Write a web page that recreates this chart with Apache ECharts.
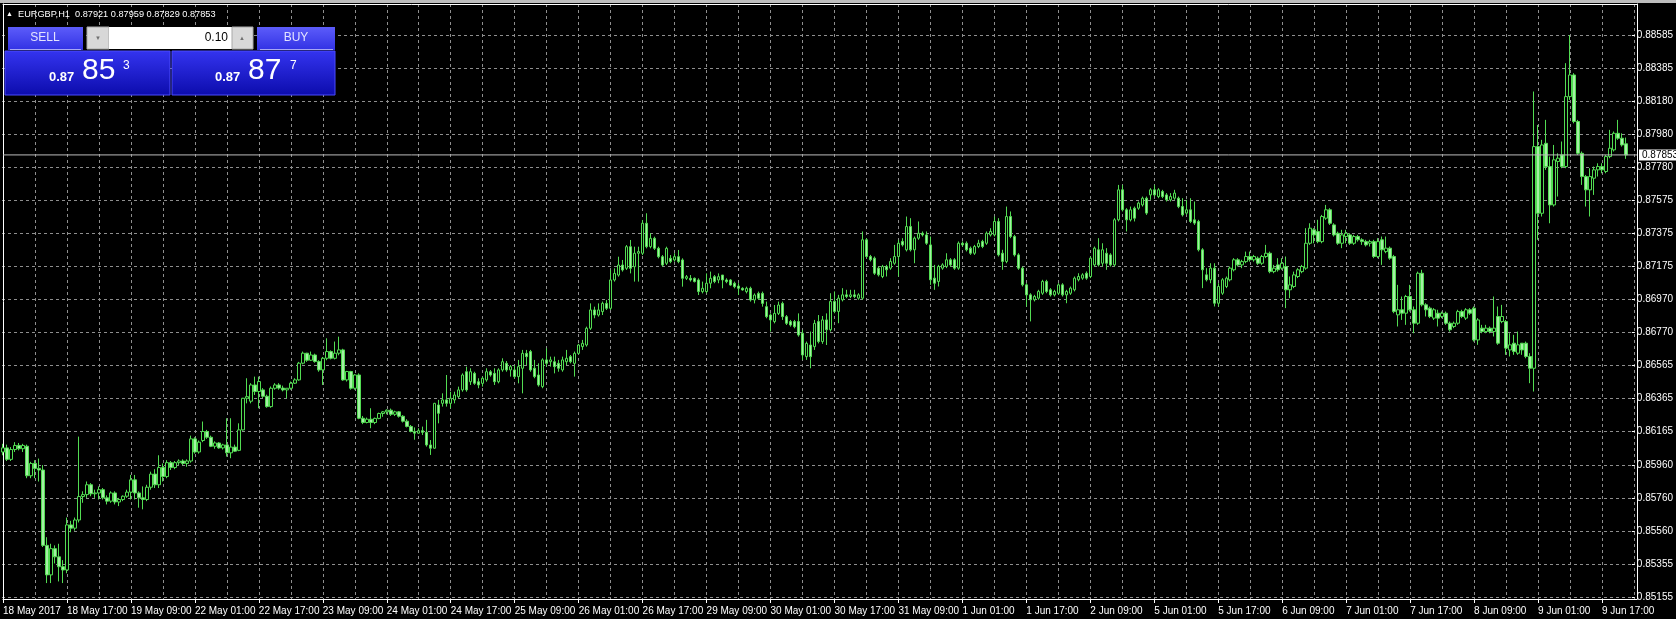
<!DOCTYPE html>
<html><head><meta charset="utf-8">
<script src="https://cdn.jsdelivr.net/npm/echarts@6/dist/echarts.min.js"></script>
<style>html,body{margin:0;padding:0;background:#000;}#c{width:1676px;height:619px;}</style>
</head><body><div id="c"></div>
<script>
const symbol = 'EURGBP', timeframe = 'H1';
const timeLabels = ['18 May 2017','18 May 17:00','19 May 09:00','22 May 01:00','22 May 17:00','23 May 09:00','24 May 01:00','24 May 17:00','25 May 09:00','26 May 01:00','26 May 17:00','29 May 09:00','30 May 01:00','30 May 17:00','31 May 09:00','1 Jun 01:00','1 Jun 17:00','2 Jun 09:00','5 Jun 01:00','5 Jun 17:00','6 Jun 09:00','7 Jun 01:00','7 Jun 17:00','8 Jun 09:00','9 Jun 01:00','9 Jun 17:00'];
const priceTickLabels = ['0.85155','0.85355','0.85560','0.85760','0.85960','0.86165','0.86365','0.86565','0.86770','0.86970','0.87175','0.87375','0.87575','0.87780','0.87980','0.88180','0.88385','0.88585'];
const bid = 0.87853, ask = 0.87877, lotSize = '0.10';

const opens = [
.86040,.86065,.85995,.86055,.86080,.86060,.86075,.85895,.85970,.85940,
.85930,.85470,.85290,.85450,.85400,.85340,.85320,.85595,.85575,.85625,
.85768,.85780,.85840,.85785,.85790,.85810,.85760,.85740,.85790,.85735,
.85750,.85770,.85795,.85870,.85790,.85760,.85750,.85825,.85905,.85840,
.85945,.85890,.85975,.85945,.85975,.85985,.85970,.85985,.86120,.86040,
.86110,.86165,.86130,.86075,.86095,.86065,.86083,.86035,.86070,.86050,
.86175,.86368,.86350,.86449,.86409,.86419,.86380,.86317,.86429,.86449,
.86430,.86419,.86429,.86460,.86480,.86582,.86643,.86600,.86632,.86592,
.86541,.86612,.86653,.86612,.86643,.86663,.86480,.86531,.86429,.86510,
.86246,.86220,.86240,.86220,.86245,.86275,.86285,.86295,.86270,.86285,
.86258,.86228,.86196,.86165,.86155,.86170,.86160,.86083,.86063,.86327,
.86337,.86358,.86337,.86358,.86378,.86419,.86530,.86469,.86520,.86469,
.86459,.86480,.86530,.86520,.86469,.86541,.86581,.86541,.86541,.86500,
.86551,.86642,.86653,.86551,.86510,.86439,.86602,.86591,.86591,.86581,
.86541,.86591,.86622,.86581,.86642,.86683,.86693,.86795,.86907,.86876,
.86897,.86947,.86917,.87090,.87120,.87181,.87161,.87293,.87171,.87253,
.87253,.87436,.87293,.87344,.87283,.87232,.87192,.87222,.87212,.87232,
.87212,.87100,.87100,.87100,.87090,.87019,.87019,.87070,.87110,.87090,
.87120,.87090,.87090,.87070,.87053,.87039,.87019,.87039,.86968,.87008,
.87008,.86927,.86876,.86836,.86886,.86947,.86866,.86836,.86836,.86836,
.86764,.86622,.86693,.86683,.86836,.86714,.86846,.86786,.86959,.86898,
.86969,.86999,.86989,.86999,.86979,.86979,.87335,.87233,.87223,.87162,
.87111,.87172,.87162,.87192,.87233,.87325,.87274,.87416,.87274,.87345,
.87375,.87365,.87304,.87101,.87081,.87162,.87172,.87213,.87213,.87162,
.87314,.87314,.87284,.87253,.87294,.87325,.87314,.87365,.87365,.87447,
.87253,.87203,.87477,.87355,.87243,.87162,.87060,.86999,.86969,.86979,
.87009,.87081,.87030,.86999,.87009,.87060,.86999,.87009,.87030,.87091,
.87101,.87131,.87111,.87182,.87274,.87192,.87253,.87243,.87182,.87457,
.87640,.87518,.87457,.87528,.87528,.87548,.87589,.87609,.87640,.87599,
.87630,.87609,.87579,.87589,.87589,.87538,.87498,.87518,.87457,.87447,
.87274,.87121,.87091,.87162,.86948,.87009,.87050,.87091,.87152,.87213,
.87182,.87202,.87233,.87213,.87223,.87192,.87233,.87253,.87141,.87182,
.87162,.87172,.87030,.87050,.87111,.87141,.87162,.87314,.87396,.87385,
.87324,.87467,.87518,.87426,.87375,.87314,.87355,.87365,.87314,.87355,
.87335,.87324,.87314,.87324,.87233,.87335,.87263,.87284,.87233,.86877,
.86908,.86887,.86989,.86908,.86826,.87131,.86938,.86918,.86857,.86887,
.86867,.86887,.86826,.86806,.86826,.86897,.86857,.86908,.86918,.86724,
.86796,.86775,.86796,.86775,.86867,.86836,.86836,.86663,.86704,.86643,
.86704,.86704,.86623,.86551,.87904,.87497,.87924,.87782,.87548,.87813,
.87853,.87782,.88209,.88341,.88057,.87863,.87721,.87640,.87711,.87762,
.87782,.87752,.87843,.87884,.87985,.87955,.87921];

const highs = [
.86090,.86085,.86070,.86100,.86095,.86090,.86085,.85980,.85990,.86000,
.85960,.85520,.85480,.85470,.85480,.85380,.85640,.85620,.85640,.86134,
.85800,.85860,.85850,.85810,.85830,.85820,.85775,.85800,.85800,.85760,
.85775,.85810,.85900,.85900,.85800,.85830,.85840,.85920,.85935,.86020,
.85970,.85990,.85985,.85985,.85995,.85995,.85995,.86140,.86130,.86110,
.86226,.86175,.86140,.86105,.86100,.86090,.86246,.86246,.86085,.86215,
.86370,.86490,.86460,.86500,.86500,.86430,.86390,.86440,.86460,.86460,
.86445,.86430,.86470,.86490,.86590,.86653,.86645,.86653,.86640,.86600,
.86620,.86734,.86660,.86714,.86744,.86670,.86535,.86535,.86515,.86520,
.86260,.86250,.86307,.86250,.86280,.86290,.86300,.86305,.86292,.86290,
.86265,.86240,.86205,.86190,.86185,.86195,.86236,.86113,.86340,.86358,
.86398,.86510,.86408,.86408,.86439,.86520,.86561,.86551,.86530,.86490,
.86500,.86551,.86540,.86551,.86551,.86612,.86595,.86571,.86571,.86602,
.86663,.86663,.86663,.86602,.86581,.86612,.86673,.86622,.86622,.86602,
.86622,.86663,.86632,.86653,.86700,.86724,.86805,.86947,.86927,.86947,
.86958,.86968,.87151,.87161,.87232,.87212,.87303,.87334,.87293,.87293,
.87456,.87497,.87375,.87354,.87293,.87242,.87293,.87242,.87253,.87273,
.87222,.87120,.87120,.87105,.87100,.87080,.87130,.87141,.87120,.87130,
.87120,.87100,.87095,.87080,.87070,.87045,.87049,.87049,.87008,.87019,
.87019,.86958,.86886,.86937,.86958,.86958,.86876,.86846,.86846,.86886,
.86785,.86714,.86775,.86846,.86876,.86870,.86886,.87009,.87020,.86999,
.87040,.87030,.87030,.87030,.87009,.87386,.87345,.87243,.87233,.87172,
.87182,.87182,.87223,.87304,.87335,.87345,.87477,.87467,.87355,.87447,
.87386,.87386,.87355,.87182,.87182,.87192,.87253,.87223,.87223,.87325,
.87325,.87325,.87294,.87304,.87335,.87335,.87386,.87406,.87477,.87467,
.87274,.87538,.87508,.87365,.87253,.87172,.87070,.87009,.86999,.87030,
.87091,.87091,.87040,.87030,.87070,.87070,.87030,.87050,.87111,.87131,
.87131,.87142,.87233,.87294,.87345,.87314,.87284,.87253,.87467,.87670,
.87670,.87528,.87538,.87538,.87569,.87599,.87599,.87650,.87670,.87650,
.87640,.87620,.87620,.87640,.87599,.87589,.87579,.87589,.87569,.87457,
.87284,.87162,.87192,.87192,.87070,.87101,.87111,.87172,.87223,.87223,
.87213,.87263,.87263,.87243,.87233,.87243,.87304,.87263,.87182,.87223,
.87223,.87233,.87111,.87141,.87162,.87182,.87406,.87436,.87406,.87457,
.87487,.87548,.87528,.87436,.87385,.87396,.87396,.87375,.87365,.87365,
.87345,.87335,.87335,.87335,.87345,.87355,.87355,.87294,.87243,.87060,
.86989,.86999,.87060,.86928,.87141,.87152,.86948,.86928,.86918,.86908,
.86897,.86897,.86836,.86836,.86908,.86908,.86918,.86918,.86928,.86857,
.86816,.86816,.86806,.86989,.86928,.86938,.86846,.86765,.86755,.86775,
.86704,.86714,.86643,.88240,.88036,.87945,.88067,.87843,.87914,.87863,
.87935,.88413,.88585,.88352,.88067,.87874,.87731,.87772,.87782,.87802,
.87802,.87853,.88006,.87996,.88067,.87985,.87959];

const lows = [
.86020,.85985,.85985,.86040,.86050,.86040,.85880,.85880,.85880,.85860,
.85460,.85240,.85240,.85360,.85250,.85240,.85300,.85550,.85560,.85610,
.85730,.85760,.85770,.85760,.85750,.85750,.85720,.85730,.85720,.85710,
.85740,.85760,.85750,.85750,.85700,.85690,.85740,.85810,.85820,.85820,
.85860,.85880,.85930,.85935,.85960,.85960,.85950,.85975,.86030,.86030,
.86100,.86120,.86070,.86060,.86060,.86055,.86012,.86002,.86040,.86045,
.86170,.86337,.86337,.86388,.86307,.86370,.86310,.86310,.86420,.86420,
.86410,.86368,.86420,.86455,.86475,.86575,.86590,.86595,.86585,.86530,
.86449,.86600,.86605,.86605,.86630,.86475,.86470,.86420,.86420,.86240,
.86210,.86215,.86185,.86210,.86240,.86255,.86270,.86260,.86260,.86250,
.86220,.86190,.86160,.86115,.86150,.86144,.86073,.86022,.86060,.86215,
.86317,.86317,.86307,.86337,.86368,.86408,.86408,.86449,.86450,.86429,
.86439,.86469,.86500,.86449,.86459,.86530,.86530,.86500,.86490,.86459,
.86398,.86571,.86530,.86490,.86439,.86429,.86561,.86561,.86520,.86530,
.86530,.86571,.86581,.86500,.86635,.86663,.86683,.86785,.86856,.86866,
.86876,.86907,.86907,.87080,.87110,.87141,.87151,.87130,.87080,.87080,
.87242,.87283,.87283,.87273,.87222,.87171,.87181,.87192,.87202,.87192,
.87049,.87090,.87080,.87075,.86998,.87008,.87008,.87039,.87070,.87070,
.87039,.87070,.87055,.87039,.86998,.87025,.87008,.86958,.86947,.86968,
.86927,.86856,.86775,.86825,.86876,.86846,.86815,.86805,.86795,.86744,
.86602,.86602,.86551,.86663,.86703,.86700,.86693,.86775,.86887,.86826,
.86959,.86979,.86979,.86979,.86969,.86969,.87223,.87203,.87121,.87111,
.87101,.87111,.87152,.87182,.87111,.87294,.87264,.87264,.87192,.87335,
.87355,.87304,.87060,.87030,.87050,.87152,.87162,.87172,.87152,.87152,
.87294,.87264,.87243,.87243,.87284,.87284,.87304,.87355,.87355,.87233,
.87152,.87192,.87345,.87233,.87152,.87050,.86928,.86837,.86959,.86969,
.86999,.87009,.86989,.86989,.86999,.86989,.86948,.86999,.87020,.87081,
.87091,.87091,.87101,.87172,.87172,.87172,.87152,.87172,.87172,.87447,
.87508,.87386,.87447,.87447,.87518,.87538,.87487,.87579,.87599,.87589,
.87589,.87569,.87569,.87579,.87528,.87477,.87487,.87437,.87426,.87264,
.87040,.87081,.87070,.86928,.86928,.86999,.87040,.87081,.87142,.87172,
.87162,.87192,.87202,.87202,.87182,.87182,.87223,.87131,.87131,.87141,
.87152,.86918,.86979,.87040,.87101,.87131,.87152,.87304,.87314,.87314,
.87314,.87457,.87426,.87355,.87304,.87284,.87314,.87304,.87304,.87324,
.87304,.87294,.87294,.87223,.87223,.87182,.87253,.87213,.86887,.86806,
.86846,.86816,.86897,.86765,.86816,.86928,.86867,.86857,.86846,.86806,
.86857,.86816,.86775,.86796,.86816,.86857,.86846,.86877,.86714,.86694,
.86765,.86765,.86765,.86745,.86694,.86826,.86633,.86623,.86633,.86633,
.86633,.86612,.86460,.86409,.87335,.87477,.87762,.87436,.87538,.87599,
.87772,.87772,.88189,.88046,.87853,.87670,.87538,.87477,.87609,.87721,
.87741,.87741,.87833,.87874,.87945,.87904,.87829];

const closes = [
.86065,.85995,.86055,.86080,.86060,.86080,.85895,.85970,.85940,.85930,
.85470,.85290,.85450,.85400,.85340,.85320,.85595,.85575,.85625,.85768,
.85780,.85840,.85785,.85790,.85810,.85760,.85740,.85790,.85735,.85750,
.85770,.85795,.85870,.85790,.85760,.85750,.85825,.85905,.85840,.85945,
.85890,.85975,.85945,.85975,.85985,.85970,.85985,.86120,.86040,.86100,
.86165,.86130,.86075,.86095,.86065,.86083,.86035,.86070,.86045,.86175,
.86368,.86378,.86449,.86409,.86470,.86380,.86317,.86429,.86449,.86430,
.86419,.86429,.86460,.86480,.86582,.86643,.86600,.86632,.86592,.86541,
.86612,.86653,.86612,.86643,.86663,.86480,.86531,.86429,.86510,.86246,
.86220,.86240,.86220,.86245,.86275,.86285,.86295,.86270,.86285,.86258,
.86228,.86196,.86165,.86155,.86170,.86160,.86083,.86063,.86337,.86276,
.86358,.86337,.86368,.86388,.86419,.86510,.86419,.86530,.86459,.86449,
.86490,.86530,.86510,.86469,.86541,.86591,.86541,.86561,.86500,.86561,
.86642,.86622,.86541,.86500,.86449,.86602,.86581,.86602,.86561,.86551,
.86602,.86612,.86591,.86642,.86693,.86703,.86795,.86907,.86876,.86907,
.86947,.86917,.87090,.87130,.87181,.87151,.87293,.87161,.87253,.87263,
.87436,.87293,.87344,.87283,.87232,.87181,.87283,.87202,.87232,.87202,
.87100,.87110,.87090,.87080,.87019,.87039,.87070,.87100,.87080,.87110,
.87090,.87080,.87059,.87049,.87039,.87029,.87039,.86968,.86998,.86978,
.86947,.86866,.86846,.86886,.86937,.86866,.86825,.86815,.86805,.86754,
.86632,.86703,.86622,.86825,.86714,.86846,.86786,.86959,.86898,.86979,
.86999,.86989,.86999,.86989,.86999,.87335,.87233,.87213,.87131,.87121,
.87172,.87152,.87203,.87233,.87314,.87304,.87416,.87274,.87345,.87375,
.87365,.87314,.87091,.87070,.87172,.87182,.87213,.87182,.87162,.87314,
.87304,.87274,.87253,.87294,.87314,.87294,.87375,.87386,.87447,.87243,
.87203,.87477,.87355,.87243,.87162,.87060,.86999,.86969,.86989,.87020,
.87081,.87020,.86999,.87020,.87060,.86999,.87020,.87040,.87101,.87111,
.87121,.87101,.87223,.87284,.87182,.87274,.87192,.87182,.87457,.87640,
.87518,.87457,.87518,.87467,.87559,.87589,.87498,.87640,.87609,.87640,
.87599,.87579,.87599,.87620,.87538,.87487,.87518,.87447,.87437,.87274,
.87152,.87091,.87162,.86948,.87050,.87091,.87101,.87162,.87213,.87182,
.87202,.87233,.87213,.87233,.87192,.87233,.87253,.87141,.87162,.87152,
.87192,.87030,.87060,.87121,.87152,.87172,.87314,.87406,.87365,.87324,
.87477,.87518,.87436,.87365,.87314,.87365,.87375,.87314,.87355,.87335,
.87324,.87304,.87324,.87233,.87324,.87274,.87284,.87223,.86897,.86908,
.86887,.86989,.86908,.86826,.87131,.86938,.86908,.86867,.86908,.86857,
.86887,.86826,.86786,.86826,.86897,.86867,.86908,.86887,.86724,.86846,
.86775,.86796,.86775,.86796,.86704,.86867,.86674,.86694,.86653,.86694,
.86663,.86623,.86551,.87904,.87497,.87914,.87782,.87548,.87823,.87833,
.87782,.88209,.88341,.88057,.87863,.87721,.87640,.87721,.87762,.87782,
.87762,.87843,.87894,.87985,.87955,.87914,.87853];

if (!(opens.length === highs.length && highs.length === lows.length && lows.length === closes.length)) {
  throw new Error('length mismatch ' + [opens.length, highs.length, lows.length, closes.length].join(','));
}

// view settings (visible price window and bar window of the terminal)
const priceMin = 0.851428, priceMax = 0.887742;
const visibleBars = 408.75;
const barsPerGrid = 8, barsPerLabel = 16;

const candleData = opens.map((o, i) => [i, o, closes[i], lows[i], highs[i]]);
const last = opens.length - 1;
const fmt = v => v.toFixed(5);
const headerText = symbol + ',' + timeframe + '  ' + [opens[last], highs[last], lows[last], closes[last]].map(fmt).join(' ');
const bidLine = [[0, bid], [visibleBars, bid]];

const FONT = "'Liberation Sans', Arial, sans-serif";
const GREEN = '#52dc52';
const BEAR_FILL = '#a4f0a4';
const GRIDC = '#8e8e8e';
const isInt = v => Math.abs(v - Math.round(v)) < 1e-6;
const grad = (c1, c2) => ({type: 'linear', x: 0, y: 0, x2: 0, y2: 1, colorStops: [{offset: 0, color: c1}, {offset: 1, color: c2}]});
function priceParts(p) { const s = fmt(p); return [s.slice(0, 4), s.slice(4, 6), s.slice(6)]; }
const bidParts = priceParts(bid), askParts = priceParts(ask);
const frameLine = {show: true, onZero: false, lineStyle: {color: '#ffffff', width: 1}};

const chart = echarts.init(document.getElementById('c'), null, {renderer: 'canvas'});
chart.setOption({
  animation: false,
  backgroundColor: '#000000',
  textStyle: {fontFamily: FONT},
  grid: [
    {left: 2, right: 39, top: 4, bottom: 20, show: false},
    {left: 2, right: 39, top: 35, bottom: 22, show: false}
  ],
  xAxis: [
    {
      gridIndex: 0, type: 'value', min: 0, max: visibleBars, interval: barsPerGrid, position: 'top',
      axisLine: frameLine, axisTick: {show: false}, axisLabel: {show: false},
      splitLine: {show: true, showMinLine: false, showMaxLine: false, lineStyle: {color: GRIDC, type: [3, 3], width: 1}}
    },
    {
      gridIndex: 0, type: 'value', min: 0, max: visibleBars, interval: barsPerLabel, position: 'bottom',
      axisLine: frameLine,
      axisTick: {show: true, length: 4, lineStyle: {color: '#ffffff'}},
      splitLine: {show: false},
      axisLabel: {
        show: true, color: '#ffffff', fontSize: 10, fontFamily: FONT, align: 'left', margin: 7,
        showMaxLabel: false,
        formatter: v => (isInt(v / barsPerLabel) ? (timeLabels[Math.round(v / barsPerLabel)] || '') : '')
      }
    },
    {gridIndex: 1, type: 'value', min: 0, max: 1, show: false}
  ],
  yAxis: [
    {
      gridIndex: 0, type: 'value', min: priceMin, max: priceMax, position: 'left',
      axisLine: frameLine, axisTick: {show: false}, axisLabel: {show: false}, splitLine: {show: false}
    },
    {
      gridIndex: 0, type: 'value', min: priceMin, max: priceMax, position: 'right',
      axisLine: frameLine, axisTick: {show: false}, axisLabel: {show: false}, splitLine: {show: false}
    },
    {
      gridIndex: 1, type: 'value', min: 0, max: priceTickLabels.length - 1, interval: 1, position: 'right',
      axisLine: {show: false, onZero: false},
      axisTick: {show: true, length: 3, lineStyle: {color: '#ffffff'}},
      splitLine: {show: true, lineStyle: {color: GRIDC, type: [3, 3], width: 1}},
      axisLabel: {
        show: true, color: '#ffffff', fontSize: 10, fontFamily: FONT, margin: 5,
        formatter: v => (isInt(v) ? (priceTickLabels[Math.round(v)] || '') : '')
      }
    }
  ],
  series: [
    {
      type: 'candlestick',
      xAxisIndex: 0, yAxisIndex: 0,
      data: candleData,
      encode: {x: 0, y: [1, 2, 3, 4]},
      barWidth: 3,
      clip: true,
      z: 2,
      itemStyle: {color: '#000000', color0: BEAR_FILL, borderColor: GREEN, borderColor0: GREEN, borderWidth: 1}
    },
    {
      type: 'line',
      xAxisIndex: 0, yAxisIndex: 0,
      data: bidLine,
      showSymbol: false, symbol: 'none', silent: true, z: 3,
      lineStyle: {color: '#bdbdbd', width: 1},
      endLabel: {
        show: true, distance: 2, formatter: () => fmt(bid),
        backgroundColor: '#ffffff', color: '#000000', fontSize: 10, fontFamily: FONT, padding: [1, 3, 0, 3]
      }
    }
  ],
  graphic: [
    {type: 'rect', z: 100, shape: {x: 0, y: 0, width: 1676, height: 3}, style: {fill: '#bdbdbd'}},
    {type: 'text', z: 100, style: {x: 6, y: 14, text: '\u25B2', fill: '#ffffff', font: '7px ' + FONT, textVerticalAlign: 'middle'}},
    {type: 'text', z: 100, style: {x: 18, y: 14, text: headerText, fill: '#ffffff', font: '9.2px ' + FONT, textVerticalAlign: 'middle'}},
    {type: 'rect', z: 100, shape: {x: 8, y: 27, width: 75, height: 23}, style: {fill: grad('#5c5cfa', '#3232e4')}},
    {type: 'rect', z: 101, shape: {x: 10, y: 49, width: 71, height: 1}, style: {fill: '#a8a8f4'}},
    {type: 'text', z: 101, style: {x: 45, y: 38, text: 'SELL', fill: '#e4e4ff', font: '12px ' + FONT, textAlign: 'center', textVerticalAlign: 'middle'}},
    {type: 'rect', z: 100, shape: {x: 87, y: 27, width: 22, height: 22}, style: {fill: '#d8d8d8', stroke: '#a8a8a8', lineWidth: 1}},
    {type: 'text', z: 101, style: {x: 98, y: 38, text: '\u25BC', fill: '#707070', font: '6px ' + FONT, textAlign: 'center', textVerticalAlign: 'middle'}},
    {type: 'rect', z: 100, shape: {x: 109, y: 27, width: 123, height: 22}, style: {fill: '#ffffff'}},
    {type: 'text', z: 101, style: {x: 228, y: 38, text: lotSize, fill: '#000000', font: '12px ' + FONT, textAlign: 'right', textVerticalAlign: 'middle'}},
    {type: 'rect', z: 100, shape: {x: 232, y: 27, width: 21, height: 22}, style: {fill: '#d8d8d8', stroke: '#a8a8a8', lineWidth: 1}},
    {type: 'text', z: 101, style: {x: 242, y: 38, text: '\u25B2', fill: '#707070', font: '6px ' + FONT, textAlign: 'center', textVerticalAlign: 'middle'}},
    {type: 'rect', z: 100, shape: {x: 257, y: 27, width: 78, height: 23}, style: {fill: grad('#5c5cfa', '#3232e4')}},
    {type: 'rect', z: 101, shape: {x: 260, y: 49, width: 73, height: 1}, style: {fill: '#a8a8f4'}},
    {type: 'text', z: 101, style: {x: 296, y: 38, text: 'BUY', fill: '#e4e4ff', font: '12px ' + FONT, textAlign: 'center', textVerticalAlign: 'middle'}},
    {type: 'rect', z: 100, shape: {x: 5, y: 51, width: 165, height: 44}, style: {fill: grad('#3434f0', '#0c0cac'), stroke: '#4a4aff', lineWidth: 1}},
    {type: 'rect', z: 100, shape: {x: 172, y: 51, width: 163, height: 44}, style: {fill: grad('#3434f0', '#0c0cac'), stroke: '#4a4aff', lineWidth: 1}},
    {type: 'text', z: 101, style: {x: 49, y: 77, text: bidParts[0], fill: '#ffffff', font: 'bold 13px ' + FONT, textVerticalAlign: 'middle'}},
    {type: 'text', z: 101, style: {x: 82, y: 71, text: bidParts[1], fill: '#ffffff', font: '30px ' + FONT, textVerticalAlign: 'middle'}},
    {type: 'text', z: 101, style: {x: 123, y: 66, text: bidParts[2], fill: '#ffffff', font: '12px ' + FONT, textVerticalAlign: 'middle'}},
    {type: 'text', z: 101, style: {x: 215, y: 77, text: askParts[0], fill: '#ffffff', font: 'bold 13px ' + FONT, textVerticalAlign: 'middle'}},
    {type: 'text', z: 101, style: {x: 248, y: 71, text: askParts[1], fill: '#ffffff', font: '30px ' + FONT, textVerticalAlign: 'middle'}},
    {type: 'text', z: 101, style: {x: 290, y: 66, text: askParts[2], fill: '#ffffff', font: '12px ' + FONT, textVerticalAlign: 'middle'}}
  ]
});
</script>
</body></html>
